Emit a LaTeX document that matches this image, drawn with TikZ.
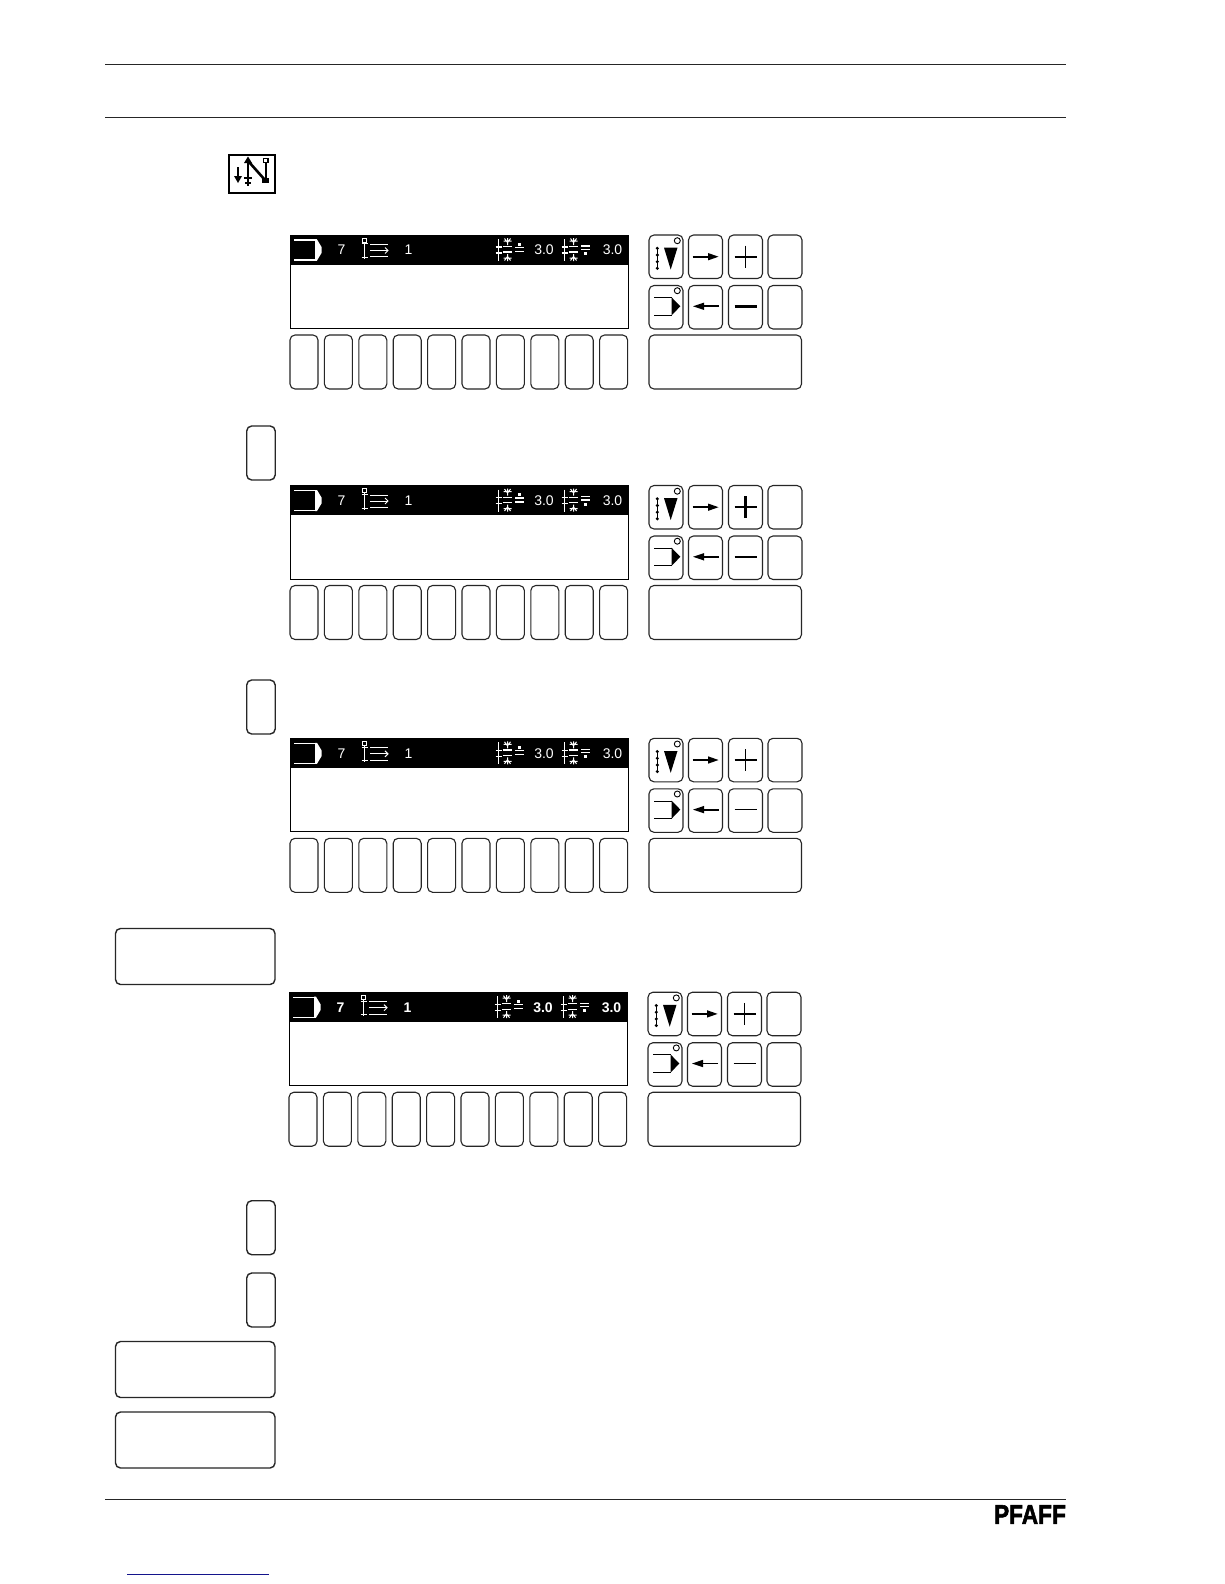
\documentclass[tikz,border=0pt]{standalone}
\usepackage{fontspec}
\setmainfont{Liberation Sans}
\newfontfamily\logofont[FakeBold=2.2]{Liberation Sans Bold}
\definecolor{linkblue}{RGB}{20,20,140}
\tikzset{
  x=1pt,y=-1pt,
  keybox/.style={draw=black!85,fill=white,line width=1.1pt,rounded corners=5pt,anchor=north west,inner sep=0pt,outer sep=0pt},
  softkey/.style={keybox,minimum width=28pt,minimum height=54pt},
  sidekey/.style={keybox,minimum width=34pt,minimum height=43.5pt},
  widekey/.style={keybox,minimum width=152.5pt,minimum height=54pt},
  stepkey/.style={keybox,line width=1.4pt,minimum width=28.5pt,minimum height=54pt},
  longkey/.style={keybox,line width=1.4pt,minimum width=159.5pt,minimum height=56pt},
  readout/.style={text=white,font=\fontsize{14}{14}\selectfont,inner sep=0pt},
  rule/.style={line width=1pt,black!85},
  whiteline/.style={draw=white,line width=1.1pt},
  pics/tension/.style={code={
    \draw[whiteline,line width=1.5pt] (498.5,239) -- (498.5,261);
    \draw[whiteline] (495.5,247) -- (501.5,247) (495.5,253) -- (501.5,253);
    \draw[whiteline] (503,246.7) -- (512,246.7) (503,252) -- (512,252);
    \draw[whiteline,line width=1pt] (503.5,241) -- (511.5,241) (507.5,238) -- (507.5,245) (504.5,238.5) -- (507.5,242.5) -- (510.5,238.5);
    \draw[whiteline,line width=1pt] (503.5,258) -- (511.5,258) (507.5,254) -- (507.5,261) (504.5,260.5) -- (507.5,256.5) -- (510.5,260.5);
  }},
  pics/panel/.style n args={3}{code={
    \node[draw=black,line width=1pt,fill=white,anchor=north west,inner sep=0pt,outer sep=0pt,minimum width=338pt,minimum height=93.5pt] (-disp) at (290,235) {};
    \fill[black] (289.5,234.5) rectangle (628.5,264.5);
    % foot icon
    \draw[whiteline] (316.5,240) -- (294,240) (294,260) -- (316.5,260);
    \fill[white] (315,239.5) -- (317,239.5) -- (321.5,247) -- (321.5,253) -- (317,260.5) -- (315,260.5) -- cycle;
    \node[readout,font=\fontsize{14}{14}\selectfont #3] (-seven) at (341.5,250) {7};
    % stitch icon
    \draw[whiteline,line width=.9pt] (364.7,240) -- (364.7,259);
    \draw[white,line width=.9pt,fill=black] (362.6,238) rectangle (366.8,242.2);
    \draw[whiteline,line width=.9pt] (361.5,257.5) -- (368,257.5) (361.5,243.8) -- (368,243.8);
    \draw[whiteline,line width=1pt] (370,244.5) -- (388,244.5) (370,250.5) -- (388,250.5) (370,256.8) -- (388,256.8);
    \draw[whiteline,line width=1pt] (385,247.5) -- (388,250.5) -- (385,253.5);
    \node[readout,font=\fontsize{14}{14}\selectfont #3] (-one) at (408.5,250) {1};
    \pic at (0,0) {tension};
    \draw[whiteline] (515,247.5) -- (524,247.5) (515,251.5) -- (524,251.5);
    \fill[white] (518,242.5) rectangle (521,245.5);
    \node[readout,font=\fontsize{14}{14}\selectfont #3] (-ta) at (544,250) {3.0};
    \pic at (66,0) {tension};
    \draw[whiteline] (581,246) -- (590,246) (581,249.5) -- (590,249.5);
    \fill[white] (584,252) rectangle (587,255);
    \node[readout,font=\fontsize{14}{14}\selectfont #3] (-tb) at (612.5,250) {3.0};
    % soft keys
    \foreach \i in {0,...,9} {
      \node[softkey] (-s\i) at ({290+\i*34.4},335) {};
    }
    % side keys
    \node[sidekey] (-k1) at (649,235) {};
    \node[sidekey] (-k2) at (688.5,235) {};
    \node[sidekey] (-k3) at (728.5,235) {};
    \node[sidekey] (-k4) at (768,235) {};
    \node[sidekey] (-k5) at (649,285.5) {};
    \node[sidekey] (-k6) at (688.5,285.5) {};
    \node[sidekey] (-k7) at (728.5,285.5) {};
    \node[sidekey] (-k8) at (768,285.5) {};
    \node[widekey] (-w) at (649,335) {};
    % k1 icon
    \draw[line width=.9pt] (677.3,240.7) circle (3pt);
    \fill (664,247.7) -- (677.5,247.7) -- (670.7,269.5) -- cycle;
    \draw[line width=.8pt] (657.3,248) -- (657.3,268.5);
    \foreach \y in {248.3,255,261.7,268.3} {\fill (657.3,\y) circle (1.7pt);}
    % k5 icon
    \draw[line width=.9pt] (677.3,290.7) circle (3pt);
    \draw[line width=.9pt] (654,297.7) -- (672,297.7) (654,315) -- (672,315);
    \fill (671.5,297.2) -- (680.3,306.3) -- (671.5,315.5) -- cycle;
    % arrows
    \draw[line width=1.8pt] (692.7,256.7) -- (710,256.7);
    \fill (708,253) -- (718.5,256.7) -- (708,260.4) -- cycle;
    \draw[line width=1.8pt] (719,306.3) -- (702,306.3);
    \fill (704,302.6) -- (693,306.3) -- (704,310) -- cycle;
    % plus, minus
    \draw[line width=#1] (734.5,256.7) -- (756.5,256.7) (745.5,245.7) -- (745.5,267.7);
    \draw[line width=#2] (734.5,306.3) -- (756.5,306.3);
  }}
}
\begin{document}
\begin{tikzpicture}
\useasboundingbox (0,0) rectangle (1224,1584);
\fill[white] (0,0) rectangle (1224,1584);
% page rules
\coordinate (ta) at (105,65); \coordinate (tb) at (1065.5,65);
\coordinate (ua) at (105,117.5); \coordinate (ub) at (1065.5,117.5);
\coordinate (ba) at (105,1499); \coordinate (bb) at (1065.5,1499);
\coordinate (la) at (127,1574.5); \coordinate (lb) at (269,1574.5);
\draw[rule] (ta) -- (tb);
\draw[rule] (ua) -- (ub);
\draw[rule] (ba) -- (bb);
\draw[linkblue,line width=1pt] (la) -- (lb);
% top icon
\node[draw=black,line width=2.4pt,minimum width=46pt,minimum height=38pt,inner sep=0pt,anchor=north west] (icon) at (228,154) {};
\draw[line width=1.6pt] (238,167) -- (238,180);
\fill (234,176) -- (242,176) -- (238,183) -- cycle;
\draw[line width=1.6pt] (248,158) -- (248,186);
\fill (244,163) -- (252,163) -- (248,156.5) -- cycle;
\draw[line width=1.6pt] (244,178) -- (252,178) (245,183) -- (251,183);
\draw[line width=2.6pt] (249,162) -- (265,180);
\draw[line width=1.6pt] (265.7,162) -- (265.7,181);
\draw[line width=1.5pt,fill=white] (263.5,158.5) rectangle (268,162.5);
\fill (262,178) rectangle (269,182.5);
% panels
\pic (pa) at (0,0) {panel={1.6pt}{2.8pt}{}};
\pic (pb) at (0,250.5) {panel={2.4pt}{1.4pt}{}};
\pic (pc) at (0,503.3) {panel={1.4pt}{1.4pt}{}};
\pic (pd) at (-1,757.2) {panel={1.4pt}{1.4pt}{\bfseries}};
% left keys
\node[stepkey] (la1) at (246.7,426) {};
\node[stepkey] (la2) at (246.7,680) {};
\node[longkey] (lw1) at (115.5,928.5) {};
\node[stepkey] (la3) at (246.7,1200.7) {};
\node[stepkey] (la4) at (246.7,1273) {};
\node[longkey] (lw2) at (115.5,1341.5) {};
\node[longkey] (lw3) at (115.5,1412) {};
% logo
\node[font=\fontsize{27}{27}\selectfont\logofont,xscale=.84,inner sep=0pt,anchor=south east,text=black] (logo) at (1066,1524) {PFAFF};
\end{tikzpicture}
\end{document}
